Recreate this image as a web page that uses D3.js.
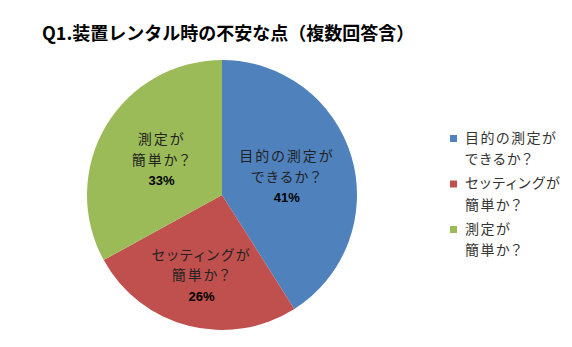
<!DOCTYPE html>
<html>
<head>
<meta charset="utf-8">
<script src="https://cdn.jsdelivr.net/npm/d3@7"></script>
<style>
  body { margin: 0; background: #fff; }
  text { font-family: "Noto Sans CJK JP", sans-serif; font-feature-settings: "palt"; }
</style>
</head>
<body>
<div id="chart"></div>
<script>
var svgWidth = 572;
var svgHeight = 347;

var titleText = "Q1.装置レンタル時の不安な点（複数回答含）";
var categories = [["目的の測定が", "できるか？"], ["セッティングが", "簡単か？"], ["測定が", "簡単か？"]];
var values = [41, 26, 33];
var colors = ["#4F81BD", "#C0504D", "#9BBB59"];

var cx = 222, cy = 195, radius = 135;
// label distance from centre, as share of radius (best-fit placement)
var labelRadius = [0.5, 0.61, 0.52];

var svg = d3.select("#chart").append("svg")
    .attr("width", svgWidth)
    .attr("height", svgHeight);

svg.append("text")
    .attr("x", 42)
    .attr("y", 40)
    .style("font-size", "18px")
    .style("font-weight", "bold")
    .style("font-feature-settings", "normal")
    .style("fill", "#000")
    .text(titleText);

var data = values.map(function(v, i) {
    return {value: v, label: categories[i], color: colors[i], lr: labelRadius[i]};
});

var pie = d3.pie().sort(null).value(function(d) { return d.value; });
var arc = d3.arc().innerRadius(0).outerRadius(radius);

var g = svg.append("g").attr("transform", "translate(" + cx + "," + cy + ")");

var slices = g.selectAll(".slice")
    .data(pie(data))
    .enter()
    .append("g")
    .attr("class", "slice");

slices.append("path")
    .attr("d", arc)
    .attr("fill", function(d) { return d.data.color; });

var labels = slices.append("text")
    .attr("transform", function(d) {
        var r = radius * d.data.lr;
        var c = d3.arc().innerRadius(r).outerRadius(r).centroid(d);
        return "translate(" + c[0] + "," + (c[1] - 20) + ")";
    })
    .style("text-anchor", "middle")
    .style("font-size", "14px")
    .style("letter-spacing", "2px");

labels.each(function(d) {
    var t = d3.select(this);
    d.data.label.forEach(function(line, i) {
        t.append("tspan")
            .attr("x", 0)
            .attr("dy", i === 0 ? "0.35em" : 20.5)
            .style("fill", "#222")
            .text(line);
    });
    t.append("tspan")
        .attr("x", 0)
        .attr("dy", 20.5)
        .style("font-weight", "bold")
        .style("font-family", "Arial, 'Liberation Sans', sans-serif")
        .style("letter-spacing", "0px")
        .style("font-size", "13px")
        .style("fill", "#000")
        .text(d.data.value + "%");
});

// legend
var legend = svg.append("g").attr("transform", "translate(450, 0)");
var legendY = d3.scalePoint().domain(d3.range(categories.length)).range([138, 229]);

var items = legend.selectAll(".item")
    .data(data)
    .enter()
    .append("g")
    .attr("class", "item")
    .attr("transform", function(d, i) { return "translate(0," + legendY(i) + ")"; });

items.append("rect")
    .attr("x", 0)
    .attr("y", -3)
    .attr("width", 7)
    .attr("height", 7)
    .attr("fill", function(d) { return d.color; });

items.append("text")
    .style("font-size", "14px")
    .style("letter-spacing", "1.5px")
    .style("fill", "#333")
    .each(function(d) {
        var t = d3.select(this);
        d.label.forEach(function(line, i) {
            t.append("tspan")
                .attr("x", 15)
                .attr("dy", i === 0 ? "0.35em" : 21.5)
                .text(line);
        });
    });
</script>
</body>
</html>
